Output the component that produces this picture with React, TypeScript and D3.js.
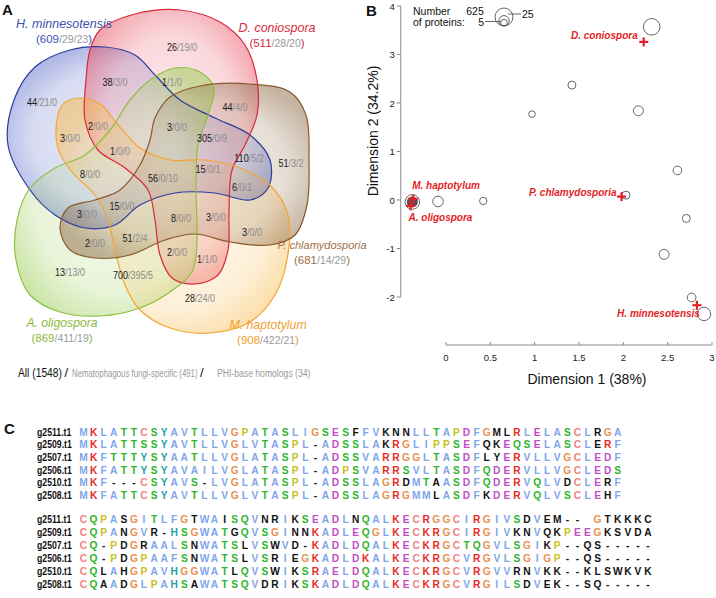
import React from 'react';
import * as d3 from 'd3';

const FONT = '"Liberation Sans", Arial, Helvetica, sans-serif';

// ---------------- Panel A : Venn ----------------
const setNames = ['H. minnesotensis', 'D. coniospora', 'A. oligospora', 'M. haptotylum', 'P. chlamydosporia'];
const setAll = [609, 511, 869, 908, 681];
const setNema = [29, 28, 411, 422, 14];
const setPhi = [23, 20, 19, 21, 29];
const setStroke = ['#2c3c9c', '#d8283a', '#8ec042', '#f2a535', '#8a5a2c'];
const setFill = ['#4a5cc4', '#e8485a', '#98cc50', '#f8b848', '#8c6a44'];
const setText = ['#3a52b0', '#d42a3a', '#8ab83c', '#f0a030', '#a07048'];

const regionAll = [26, 38, 1, 44, 44, 2, 3, 3, 305, 1, 110, 51, 15, 8, 56, 6, 15, 3, 8, 3, 3, 51, 2, 2, 1, 13, 700, 28];
const regionNema = [19, 3, 1, 21, 4, 0, 0, 0, 0, 0, 5, 3, 0, 0, 0, 0, 0, 0, 0, 0, 0, 2, 0, 0, 1, 13, 395, 24];
const regionPhi = [0, 0, 0, 0, 0, 0, 0, 0, 9, 0, 2, 2, 1, 0, 10, 1, 0, 0, 0, 0, 0, 4, 0, 0, 0, 0, 5, 0];

const legendParts = ['All (1548)', '/', 'Nematophagous fungi-specific (491)', '/', 'PHI-base homologs (34)'];

// layout of the Venn (label anchors and blob outlines)
const regionPos: [number, number][] = [
  [182, 47], [115, 82], [172, 82], [42, 102], [235, 107], [98, 126], [177, 127], [70, 138],
  [212, 138], [120, 151], [249, 158], [291, 163], [208, 169], [90, 174], [163, 178], [242, 187],
  [122, 206], [87, 214], [181, 218], [216, 217], [252, 232], [135, 238], [95, 243], [177, 252],
  [207, 259], [70, 272], [133, 275], [200, 298],
];
const shapes: [number, number][][] = [
  [[8, 145], [14, 100], [35, 67], [70, 50], [105, 47], [135, 55], [155, 75], [180, 100], [215, 118], [250, 135], [270, 160], [268, 188], [250, 200], [215, 193], [175, 193], [140, 205], [115, 225], [85, 228], [55, 215], [30, 190]],
  [[100, 30], [135, 14], [180, 10], [220, 22], [245, 45], [257, 80], [257, 115], [245, 145], [232, 170], [229, 210], [228, 250], [218, 275], [195, 284], [172, 278], [160, 255], [155, 220], [148, 190], [125, 168], [98, 150], [85, 120], [86, 80], [90, 50]],
  [[150, 80], [175, 68], [200, 72], [214, 88], [208, 115], [198, 145], [196, 190], [197, 240], [192, 272], [170, 292], [140, 308], [100, 316], [60, 312], [30, 295], [16, 260], [17, 220], [30, 188], [55, 168], [85, 155], [110, 130], [130, 100]],
  [[62, 105], [80, 98], [100, 104], [118, 125], [140, 148], [170, 160], [205, 160], [240, 168], [270, 185], [288, 215], [287, 260], [275, 295], [250, 322], [210, 333], [170, 328], [140, 310], [125, 285], [115, 250], [108, 220], [95, 195], [72, 172], [57, 145]],
  [[155, 118], [170, 97], [200, 86], [250, 84], [290, 92], [306, 115], [309, 160], [307, 205], [295, 235], [270, 245], [230, 242], [195, 234], [165, 240], [130, 255], [95, 258], [70, 250], [60, 228], [68, 208], [95, 200], [120, 190], [140, 165], [150, 140]],
];
const setLabelPos: { x: number; y: number; size: number }[] = [
  { x: 64, y: 24, size: 12.5 },
  { x: 277, y: 28, size: 12.5 },
  { x: 62, y: 323, size: 12.2 },
  { x: 268, y: 325, size: 12.3 },
  { x: 322, y: 245, size: 11 },
];
// x start, font size, horizontal squeeze, colour for the legend line pieces
const legendLayout = [
  { x: 18, size: 13, sx: 0.79, fill: '#111' },
  { x: 64.5, size: 13, sx: 1, fill: '#111' },
  { x: 72, size: 11.5, sx: 0.68, fill: '#9a9a9a' },
  { x: 200, size: 13, sx: 1, fill: '#111' },
  { x: 217, size: 11.5, sx: 0.75, fill: '#9a9a9a' },
];

// ---------------- Panel B : MDS scatter ----------------
const dim1 = [2.32, 1.42, 0.97, 2.17, 2.61, 2.03, -0.09, 0.42, 2.71, 2.46, 2.77, 2.91, -0.38];
const dim2 = [3.57, 2.37, 1.77, 1.84, 0.61, 0.10, -0.03, -0.02, -0.38, -1.12, -2.01, -2.35, -0.04];
const nProteins = [350, 9, 5, 21, 12, 9, 27, 7, 9, 21, 12, 89, 150];
const pointFilled = [false, false, false, false, false, false, false, false, false, false, false, false, true];
const speciesNames = ['D. coniospora', 'P. chlamydosporia', 'H. minnesotensis', 'M. haptotylum', 'A. oligospora'];
const speciesDim1 = [2.23, 1.98, 2.83, -0.37, -0.40];
const speciesDim2 = [3.26, 0.07, -2.17, 0.02, -0.12];
const speciesLabelOff: { dx: number; dy: number; anchor: string }[] = [
  { dx: -6, dy: -3, anchor: 'end' },
  { dx: -5, dy: -1, anchor: 'end' },
  { dx: 3, dy: 12, anchor: 'end' },
  { dx: -1, dy: -10, anchor: 'start' },
  { dx: -2, dy: 15, anchor: 'start' },
];
const xTicks = [0, 0.5, 1, 1.5, 2, 2.5, 3];
const yTicks = [-2, -1, 0, 1, 2, 3, 4];
const legendSizes = [625, 25, 5];

// ---------------- Panel C : alignment ----------------
const seqNames = ['g2511.t1', 'g2509.t1', 'g2507.t1', 'g2506.t1', 'g2510.t1', 'g2508.t1'];
const block1 = [
  'MKLATTCSYAVTLLVGPATASLIGSESFFVKNNLLTAPDFGMLRLELASCLRGA',
  'MKLATTSSYAVTLLVGLVTASPL-ADSSLAKRGLIPPSEFQKEQSELASCLERF',
  'MKFTTTYSYAATLLVGLATASPL-ADSSVARRGGLTASDFLYERVLLVGCLEDF',
  'MKFATTYSYAVAILVGLATASPL-ADPSVARRSVLTASDFQDERVLLVGCLEDS',
  'MKF---CSYAVS-LVGLATASPL-ADSSLAGRDMTAASDFQDERVQLVDCLERF',
  'MKFATTCSYAVTLLVGLVTASPL-ADSSLAGRGMMLASDFKDERVQLVSCLEHF',
];
const block1Black = [
  [27, 30, 31, 32, 41, 42, 51],
  [30, 40, 41, 51],
  [40, 41],
  [],
  [32, 35, 48, 52],
  [35, 40, 52],
];
const block2 = [
  'CQPASGITLFGTWAISQVNRIKSEADLNQALKECRGGCIRGIVSDVEM-- GTKKKC',
  'CQPANGVR-HSGWATGQVSGINNKADLEQGLKECKRGCIRGIVKNVQKPEEGKSVDA',
  'CQ-PDGRAALSNWATSLVSWVD-KADLDQALKECKRGCTQGVLSGIKP--QS-----',
  'CQ-PDGPAAFSNWATSLVSRIEGKADLDKALKECKRGCVRGVLSGIGP--QS-----',
  'CQLAHGPAVHGGWATLQVSWIKSRAELDQALKECKRGCVRGVVRNVKK--KLSWKVK',
  'CQAADGLPAHSAWATSQVDRIKSKADLDQALKECKRGCVRGILSDVEK--SQ-----',
];
const block2Black = [
  [4, 11, 14, 18, 19, 21, 27, 44, 46, 47, 52, 53, 54, 55, 56],
  [4, 7, 15, 21, 22, 43, 44, 46, 47, 52, 53, 54, 55, 56],
  [4, 6, 11, 16, 19, 21, 46, 50, 51],
  [4, 11, 16, 19, 21, 50, 51],
  [2, 4, 15, 19, 21, 43, 44, 46, 47, 50, 51, 52, 53, 54, 55, 56],
  [2, 4, 11, 18, 19, 21, 44, 46, 47, 50, 51],
];

function resColor(r: string): string {
  if ('AILMFWV'.includes(r)) return '#80a6ea';
  if ('KR'.includes(r)) return '#e82a1e';
  if ('ED'.includes(r)) return '#c24ec6';
  if ('NQST'.includes(r)) return '#2eb42e';
  if (r === 'C') return '#f08080';
  if (r === 'G') return '#ea9050';
  if (r === 'P') return '#c8c020';
  if ('HY'.includes(r)) return '#1ca2a8';
  return '#111';
}

function SText(props: any) {
  const { x, y, sx = 1, anchor = 'start', size, fill = '#111', weight, fstyle, children } = props;
  return (
    <text
      transform={`translate(${x},${y}) scale(${sx},1)`}
      textAnchor={anchor}
      fontSize={size}
      fill={fill}
      fontWeight={weight}
      fontStyle={fstyle}
      fontFamily={FONT}
    >
      {children}
    </text>
  );
}

export default function App() {
  const blob = d3.line().curve(d3.curveCatmullRomClosed.alpha(0.5));

  // scatter scales
  const xS = d3.scaleLinear().domain([0, 3]).range([446, 712]);
  const yS = d3.scaleLinear().domain([-2, 4]).range([297, 6]);
  const rS = d3.scaleLog().domain([5, 625]).range([3.3, 9]);
  const yAxisX = xS(-0.51);

  // alignment layout
  const colX = d3.scaleLinear().domain([0, 1]).range([83.5, 93.58]);
  const row1 = d3.scaleLinear().domain([0, 1]).range([435.7, 448.3]);
  const row2 = d3.scaleLinear().domain([0, 1]).range([522.7, 535.7]);

  const renderBlock = (seqs: string[], blacks: number[][], rowY: any, key: string) =>
    seqs.map((s, i) => (
      <g key={key + i}>
        <SText x={37} y={rowY(i)} sx={0.87} size={10} weight="bold" fill="#111">{seqNames[i]}</SText>
        {s.split('').map((ch, c) => {
          if (ch === ' ') return null;
          const black = blacks[i].includes(c) || ch === '-';
          return (
            <text
              key={c}
              x={colX(c)}
              y={rowY(i)}
              textAnchor="middle"
              fontSize={10.2}
              fontWeight="bold"
              fontFamily={FONT}
              fill={black ? '#111' : resColor(ch)}
            >
              {ch}
            </text>
          );
        })}
      </g>
    ));

  return (
    <svg width={716} height={598} style={{ position: 'absolute', left: 0, top: 0, background: '#fff' }}>
      <defs>
        {setFill.map((c, i) => (
          <radialGradient key={i} id={'vg' + i} cx="50%" cy="50%" r="58%">
            <stop offset="0%" stopColor={c} stopOpacity={0.07} />
            <stop offset="70%" stopColor={c} stopOpacity={0.22} />
            <stop offset="100%" stopColor={c} stopOpacity={0.5} />
          </radialGradient>
        ))}
      </defs>
      <rect x={0} y={0} width={716} height={598} fill="#fff" />

      {/* ---------- Panel A ---------- */}
      <SText x={2} y={15} size={15} weight="bold">A</SText>
      {shapes.map((pts, i) => (
        <path key={'f' + i} d={blob(pts) as string} fill={`url(#vg${i})`} stroke="none" />
      ))}
      {shapes.map((pts, i) => (
        <path key={'s' + i} d={blob(pts) as string} fill="none" stroke={setStroke[i]} strokeWidth={1.2} />
      ))}
      {regionAll.map((v, i) => (
        <SText key={'r' + i} x={regionPos[i][0]} y={regionPos[i][1] + 4} sx={0.78} anchor="middle" size={11.6}>
          <tspan fill="#1a1a1a">{v}</tspan>
          <tspan fill="#8c8c8c">{'/' + regionNema[i] + '/' + regionPhi[i]}</tspan>
        </SText>
      ))}
      {setNames.map((n, i) => (
        <g key={'sl' + i}>
          <SText x={setLabelPos[i].x} y={setLabelPos[i].y + 4} anchor="middle" size={setLabelPos[i].size} fstyle="italic" fill={setText[i]}>
            {n}
          </SText>
          <SText x={setLabelPos[i].x} y={setLabelPos[i].y + 18.5} anchor="middle" size={11.5} fill={setText[i]}>
            <tspan>{'(' + setAll[i]}</tspan>
            <tspan fill="#9a9a9a" fontSize={10.5}>{'/' + setNema[i] + '/' + setPhi[i]}</tspan>
            <tspan>{')'}</tspan>
          </SText>
        </g>
      ))}
      {legendParts.map((t, i) => (
        <SText key={'lg' + i} x={legendLayout[i].x} y={376.5} sx={legendLayout[i].sx} size={legendLayout[i].size} fill={legendLayout[i].fill}>
          {t}
        </SText>
      ))}

      {/* ---------- Panel B ---------- */}
      <SText x={366} y={16} size={15} weight="bold">B</SText>
      <line x1={yAxisX} x2={yAxisX} y1={yS(4)} y2={yS(-2)} stroke="#8a8a8a" strokeWidth={1} />
      {yTicks.map((t) => (
        <g key={'yt' + t}>
          <line x1={yAxisX - 4} x2={yAxisX} y1={yS(t)} y2={yS(t)} stroke="#8a8a8a" />
          <text x={yAxisX - 6} y={yS(t) + 3.5} textAnchor="end" fontSize={9.5} fontFamily={FONT} fill="#222">{t}</text>
        </g>
      ))}
      <line x1={xS(0)} x2={xS(3)} y1={345} y2={345} stroke="#8a8a8a" strokeWidth={1} />
      {xTicks.map((t) => (
        <g key={'xt' + t}>
          <line x1={xS(t)} x2={xS(t)} y1={342} y2={345} stroke="#8a8a8a" />
          <text x={xS(t)} y={360.5} textAnchor="middle" fontSize={9.5} fontFamily={FONT} fill="#222">{t}</text>
        </g>
      ))}
      <text x={587} y={384} textAnchor="middle" fontSize={14} fontFamily={FONT} fill="#111">Dimension 1 (38%)</text>
      <text transform={`translate(378,131) rotate(-90)`} textAnchor="middle" fontSize={14} fontFamily={FONT} fill="#111">Dimension 2 (34.2%)</text>

      {/* size legend */}
      <text x={413} y={14.5} fontSize={10.5} fontFamily={FONT} fill="#111">Number</text>
      <text x={413} y={25.5} fontSize={10.5} fontFamily={FONT} fill="#111">of proteins:</text>
      {legendSizes.map((n, i) => (
        <circle key={'lc' + i} cx={504} cy={26 - rS(n)} r={rS(n)} fill="none" stroke="#666" strokeWidth={1} />
      ))}
      <text x={475} y={14.5} textAnchor="middle" fontSize={10.5} fontFamily={FONT} fill="#111">{legendSizes[0]}</text>
      <line x1={508} x2={521} y1={14} y2={14} stroke="#666" />
      <text x={522} y={18} fontSize={10.5} fontFamily={FONT} fill="#111">{legendSizes[1]}</text>
      <line x1={485} x2={501} y1={21.5} y2={21.5} stroke="#666" />
      <text x={484} y={25.5} textAnchor="end" fontSize={10.5} fontFamily={FONT} fill="#111">{legendSizes[2]}</text>

      {dim1.map((d, i) => (
        <g key={'pt' + i}>
          <circle cx={xS(d)} cy={yS(dim2[i])} r={rS(nProteins[i])} fill={pointFilled[i] ? '#fff' : 'none'} stroke="#666" strokeWidth={1} />
          {pointFilled[i] && <circle cx={xS(d)} cy={yS(dim2[i])} r={rS(nProteins[i]) - 1.8} fill="#505050" />}
        </g>
      ))}
      {speciesNames.map((n, i) => {
        const px = xS(speciesDim1[i]);
        const py = yS(speciesDim2[i]);
        return (
          <g key={'sp' + i}>
            <line x1={px - 4.5} x2={px + 4.5} y1={py} y2={py} stroke="#e41e26" strokeWidth={2.2} />
            <line x1={px} x2={px} y1={py - 4.5} y2={py + 4.5} stroke="#e41e26" strokeWidth={2.2} />
            <text
              x={px + speciesLabelOff[i].dx}
              y={py + speciesLabelOff[i].dy}
              textAnchor={speciesLabelOff[i].anchor as any}
              fontSize={10}
              fontWeight="bold"
              fontStyle="italic"
              fontFamily={FONT}
              fill="#e41e26"
            >
              {n}
            </text>
          </g>
        );
      })}

      {/* ---------- Panel C ---------- */}
      <SText x={4} y={434} size={15} weight="bold">C</SText>
      {renderBlock(block1, block1Black, row1, 'b1')}
      {renderBlock(block2, block2Black, row2, 'b2')}
    </svg>
  );
}
